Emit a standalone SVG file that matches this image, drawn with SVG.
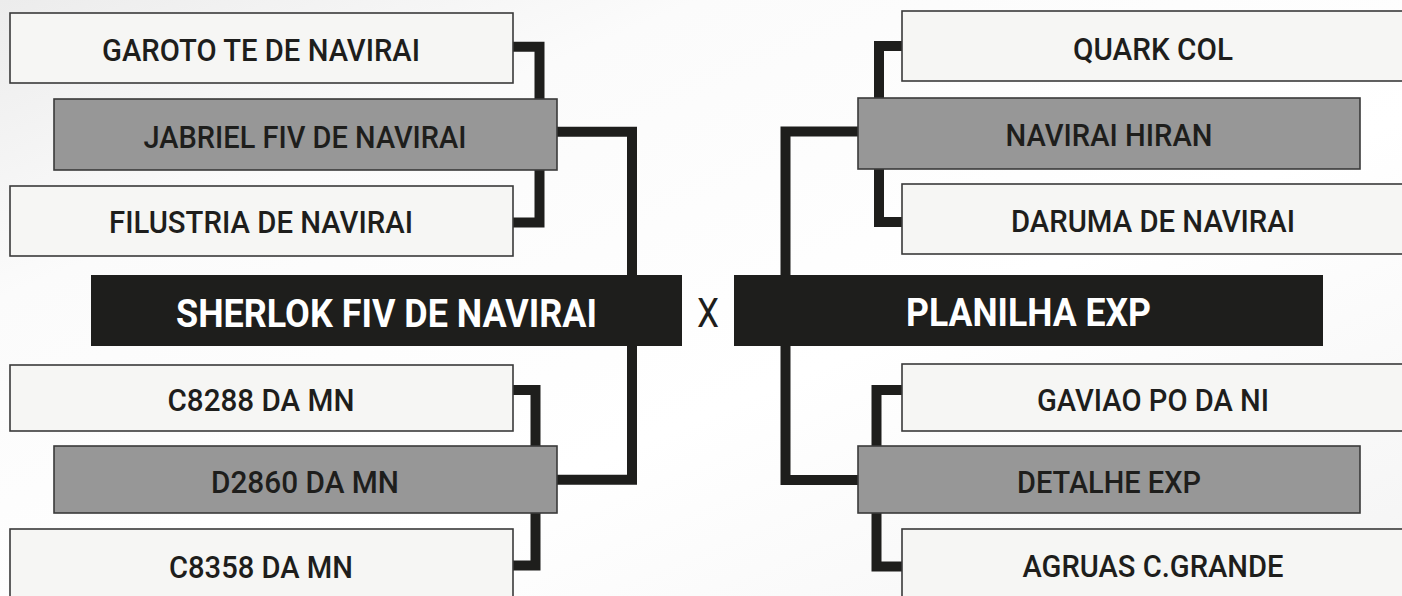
<svg xmlns="http://www.w3.org/2000/svg" width="1402" height="596" viewBox="0 0 1402 596">
<style>
.light{fill:#f6f6f4;stroke:#3a3a3a;stroke-width:1.6}
.gray{fill:#979797;stroke:#3a3a3a;stroke-width:1.6}
.dark{fill:#1e1e1c}
.lbl{font-family:Roboto,"Liberation Sans",sans-serif;font-weight:500;font-size:32px;fill:#1e1e1c;text-anchor:middle}
.ttl{font-family:Roboto,"Liberation Sans",sans-serif;font-weight:700;font-size:39px;fill:#ffffff;text-anchor:middle}
.vs{font-family:Roboto,"Liberation Sans",sans-serif;font-weight:400;font-size:41px;fill:#1e1e1c;text-anchor:middle}
.con{fill:none;stroke:#1e1e1c;stroke-width:10;stroke-linejoin:miter}
</style>
<defs>
<linearGradient id="bg" x1="0" y1="0" x2="1" y2="1">
<stop offset="0" stop-color="#ececec"/>
<stop offset="0.25" stop-color="#fbfbfb"/>
<stop offset="0.6" stop-color="#ffffff"/>
<stop offset="1" stop-color="#f4f4f4"/>
</linearGradient>
</defs>
<rect x="0" y="0" width="1402" height="596" fill="url(#bg)"/>
<g id="connectors">
<path class="con" d="M510,46.7 H539.5 V222.5 H510"/>
<path class="con" d="M555,131.7 H632 V479.7 H555"/>
<path class="con" d="M510,390 H535.5 V565.5 H510"/>
<path class="con" d="M905,46 H879 V222 H905"/>
<path class="con" d="M860,131.5 H785.5 V480 H860"/>
<path class="con" d="M905,390 H876.5 V566.5 H905"/>
</g>
<g id="garoto"><rect class="light" x="10" y="13" width="503" height="70"/><text class="lbl" x="261" y="61" textLength="318" lengthAdjust="spacingAndGlyphs">GAROTO TE DE NAVIRAI</text></g>
<g id="jabriel"><rect class="gray" x="54" y="99" width="503" height="71"/><text class="lbl" x="305" y="147.7" textLength="323" lengthAdjust="spacingAndGlyphs">JABRIEL FIV DE NAVIRAI</text></g>
<g id="filustria"><rect class="light" x="10" y="186" width="503" height="70"/><text class="lbl" x="261" y="233.3" textLength="304" lengthAdjust="spacingAndGlyphs">FILUSTRIA DE NAVIRAI</text></g>
<g id="sherlok"><rect class="dark" x="91" y="275" width="591" height="71"/><text class="ttl" x="386.5" y="327" textLength="421" lengthAdjust="spacingAndGlyphs">SHERLOK FIV DE NAVIRAI</text></g>
<g id="c8288"><rect class="light" x="10" y="365" width="503" height="66"/><text class="lbl" x="261" y="411" textLength="187" lengthAdjust="spacingAndGlyphs">C8288 DA MN</text></g>
<g id="d2860"><rect class="gray" x="54" y="446" width="503" height="67"/><text class="lbl" x="305" y="492.7" textLength="188" lengthAdjust="spacingAndGlyphs">D2860 DA MN</text></g>
<g id="c8358"><rect class="light" x="10" y="529" width="503" height="72"/><text class="lbl" x="261" y="577.7" textLength="184" lengthAdjust="spacingAndGlyphs">C8358 DA MN</text></g>
<g id="vs"><text class="vs" x="708" y="326.7" textLength="22" lengthAdjust="spacingAndGlyphs">X</text></g>
<g id="quark"><rect class="light" x="902" y="11" width="503" height="70"/><text class="lbl" x="1153" y="60" textLength="160" lengthAdjust="spacingAndGlyphs">QUARK COL</text></g>
<g id="navirai-hiran"><rect class="gray" x="858" y="98" width="502" height="71"/><text class="lbl" x="1109" y="145.7" textLength="207" lengthAdjust="spacingAndGlyphs">NAVIRAI HIRAN</text></g>
<g id="daruma"><rect class="light" x="902" y="184" width="503" height="70"/><text class="lbl" x="1153" y="231.7" textLength="284" lengthAdjust="spacingAndGlyphs">DARUMA DE NAVIRAI</text></g>
<g id="planilha"><rect class="dark" x="734" y="275" width="589" height="71"/><text class="ttl" x="1028.5" y="325.5" textLength="245" lengthAdjust="spacingAndGlyphs">PLANILHA EXP</text></g>
<g id="gaviao"><rect class="light" x="902" y="364" width="503" height="67"/><text class="lbl" x="1153" y="411" textLength="232" lengthAdjust="spacingAndGlyphs">GAVIAO PO DA NI</text></g>
<g id="detalhe"><rect class="gray" x="858" y="446" width="502" height="67"/><text class="lbl" x="1109" y="492.7" textLength="184" lengthAdjust="spacingAndGlyphs">DETALHE EXP</text></g>
<g id="agruas"><rect class="light" x="902" y="529" width="503" height="72"/><text class="lbl" x="1153" y="576.7" textLength="261" lengthAdjust="spacingAndGlyphs">AGRUAS C.GRANDE</text></g>
</svg>
